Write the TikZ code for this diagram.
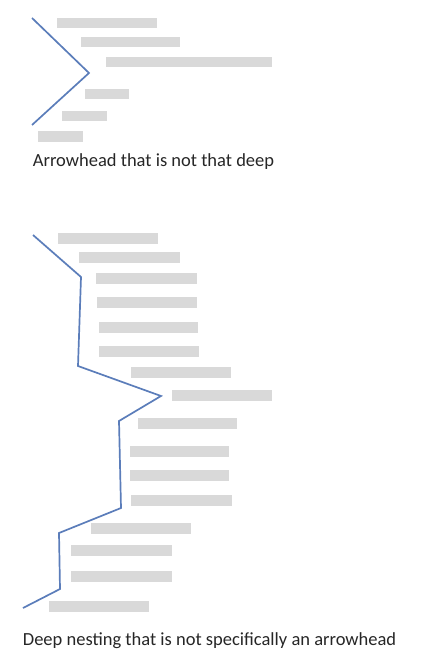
\documentclass[tikz,border=0pt]{standalone}
\usepackage{fontspec}
\setmainfont{Carlito}
\usetikzlibrary{shapes,arrows,calc,fit}

\definecolor{bargray}{HTML}{D9D9D9}
\definecolor{lineblue}{HTML}{5B7DBA}
\definecolor{captiongray}{HTML}{262626}

\begin{document}
\begin{tikzpicture}[x=1pt,y=-1pt,
	bar/.style={fill=bargray, inner sep=0, outer sep=0, minimum height=10.5pt, anchor=north west},
	nesting/.style={draw=lineblue, line width=1.7pt},
	caption/.style={anchor=base west, inner sep=0, text=captiongray, font=\fontsize{18.5}{22}\selectfont}]
	\useasboundingbox (0,0) rectangle (436,666);

	% shallow block
	\foreach \x/\y/\w [count=\n] in
	{57/18/100, 81/37/99, 106/57/166, 85/89/44, 62/111/45, 38/131/45}
	{
		\node[bar, minimum width=\w pt] (shallow-bar-\n) at (\x,\y) {};
	}

	\newcounter{i}
	\setcounter{i}{0}
	\foreach \point in
	{(32,18),(89,73),(32,125)}
	{
		\node[coordinate] (shallow-\arabic{i}) at \point { };
		\stepcounter{i}
	}
	\draw[nesting] (shallow-0) -- (shallow-1) -- (shallow-2);

	\node[caption] (shallow-caption) at (32.7,166.3) {Arrowhead that is not that deep};

	% deep block
	\foreach \x/\y/\w [count=\n] in
	{58/233/100, 79/252/101, 96/273/101, 97/297/100, 99/322/99, 99/346/100,
	 131/367/100, 172/390/100, 138/418/99, 130/446/99, 130/470/99, 131/495/101,
	 91/523/100, 71/545/101, 71/571/101, 49/601/100}
	{
		\node[bar, minimum width=\w pt] (deep-bar-\n) at (\x,\y) {};
	}

	\setcounter{i}{0}
	\foreach \point in
	{(33,235),(81,277),(78,366),(161,396),(119,421),(121,508),(59,533),(60,589),(23,608)}
	{
		\node[coordinate] (deep-\arabic{i}) at \point { };
		\stepcounter{i}
	}
	\draw[nesting] (deep-0) \foreach \k in {1,...,8} { -- (deep-\k) };

	\node[caption] (deep-caption) at (22.7,645.3) {Deep nesting that is not specifically an arrowhead};
\end{tikzpicture}
\end{document}
